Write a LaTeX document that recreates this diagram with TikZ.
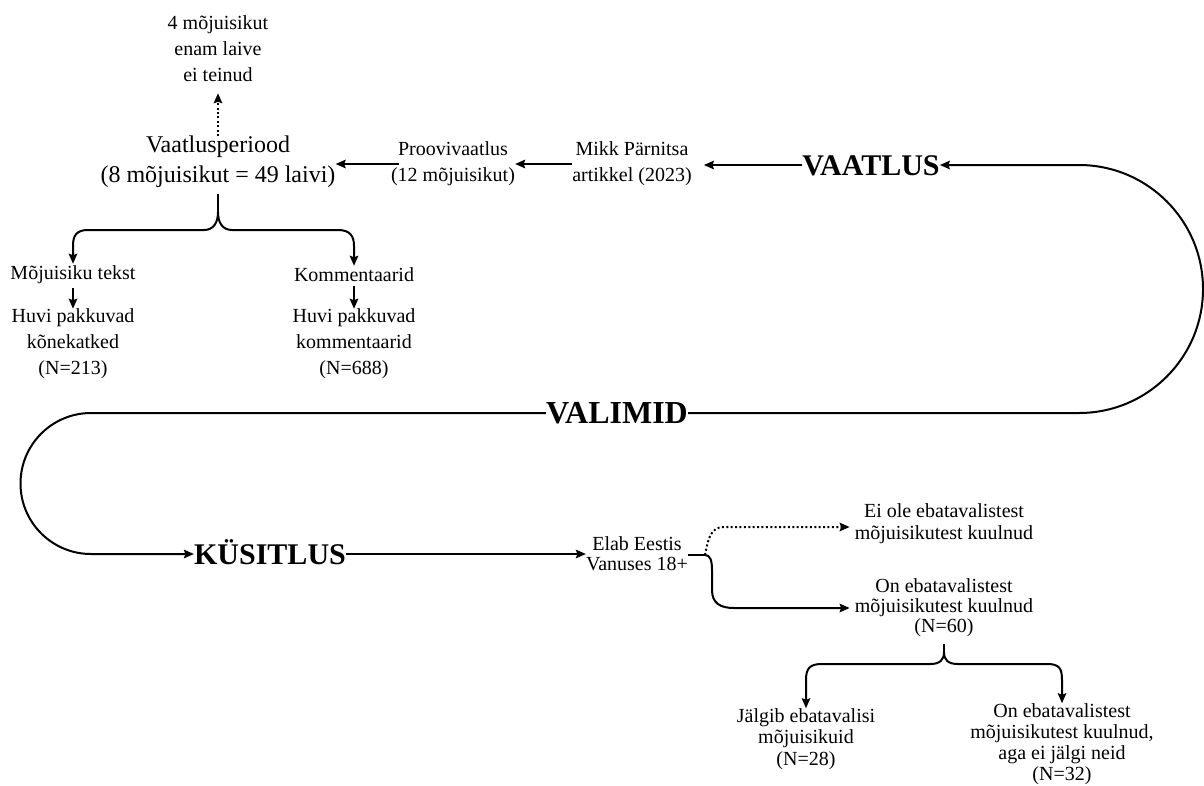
\documentclass[tikz,border=0pt]{standalone}
\usepackage{fontspec}
\setmainfont{Liberation Serif}
\usetikzlibrary{arrows.meta}
\begin{document}
\begin{tikzpicture}[x=1pt,y=-1pt,
  every node/.style={inner sep=0pt, align=center},
  ta/.style={font=\fontsize{20}{26}\selectfont},
  tb/.style={font=\fontsize{24}{30}\selectfont},
  tc/.style={font=\fontsize{20}{21}\selectfont},
  big/.style={font=\fontsize{30}{36}\selectfont\bfseries, text height=20.3pt, text depth=0pt},
  bigg/.style={font=\fontsize{32}{38}\selectfont\bfseries, text height=21.6pt, text depth=0pt},
  tip/.style={-{Stealth[length=10pt,width=8.5pt,inset=1.5pt]}},
  ln/.style={line width=2pt},
  arr/.style={line width=2pt, tip},
  dots/.style={line width=2pt, dash pattern=on 2pt off 2.4pt}]
\useasboundingbox (0,0) rectangle (1204,785);

% nodes
\node[ta] (n4) at (218,49) {4 mõjuisikut\\enam laive\\ei teinud};
\node[tb] (vp) at (218,162) {Vaatlusperiood\\(8 mõjuisikut = 49 laivi)};
\node[ta] (pv) at (453,164) {Proovivaatlus\\(12 mõjuisikut)};
\node[ta] (mp) at (632,164) {Mikk Pärnitsa\\artikkel (2023)};
\node[big] (va) at (871,165) {VAATLUS};
\node[ta] (mt) at (73,275) {Mõjuisiku tekst};
\node[ta] (hk) at (73,344) {Huvi pakkuvad\\kõnekatked\\(N=213)};
\node[ta] (ko) at (354,275) {Kommentaarid};
\node[ta] (hko) at (354,344) {Huvi pakkuvad\\kommentaarid\\(N=688)};
\node[bigg] (vl) at (617,413) {VALIMID};
\node[big] (ku) at (270,554) {KÜSITLUS};
\node[font=\fontsize{20}{20}\selectfont] (el) at (637,554) {Elab Eestis\\Vanuses 18+};
\node[font=\fontsize{20}{22}\selectfont] (eo) at (944,524) {Ei ole ebatavalistest\\mõjuisikutest kuulnud};
\node[font=\fontsize{20}{20}\selectfont] (on) at (944,608) {On ebatavalistest\\mõjuisikutest kuulnud\\(N=60)};
\node[font=\fontsize{20}{21.5}\selectfont] (jg) at (806,739) {Jälgib ebatavalisi\\mõjuisikuid\\(N=28)};
\node[tc] (oe) at (1062,744) {On ebatavalistest\\mõjuisikutest kuulnud,\\aga ei jälgi neid\\(N=32)};

% top row
\draw[dots, tip, shorten >=11pt] (vp.north) -- (n4.south);
\draw[arr, shorten <=-8pt] (pv.west) -- (vp.east |- pv.west);
\draw[arr] (mp.west) -- (pv.east |- mp.west);
\draw[arr, shorten >=12pt] (va.west) -- (mp.east |- va.west);

% top brace
\draw[ln] (vp.south) ++(0,6) -- (218,212);
\draw[arr, shorten >=2pt] (218,212) .. controls (218,222) and (214,230) .. (204,230) -- (88,230)
  .. controls (76,230) and (73,236) .. (73,246) -- (mt.north);
\draw[arr, shorten >=2pt] (218,212) .. controls (218,222) and (222,230) .. (232,230) -- (338,230)
  .. controls (350,230) and (354,236) .. (354,246) -- (ko.north);
\draw[arr, shorten <=4pt] (mt.south) -- (hk.north);
\draw[arr, shorten <=4pt] (ko.south) -- (hko.north);

% loops
\draw[arr] (vl.east) -- (1079,413) arc[start angle=90, end angle=-90, radius=124] -- (va.east);
\draw[arr] (vl.west) -- (91,413) arc[start angle=-90, end angle=-270, radius=70.5] -- (ku.west);

% survey
\draw[arr] (ku.east) -- (el.west);
\coordinate (j) at (705,555);
\coordinate (dt) at (724,527);
\coordinate (st) at (734,608);
\draw[ln] (el.east |- j) -- (j);
\draw[dots, tip, shorten >=5pt] (j) .. controls (708,540) and (710,527) .. (dt) -- (eo.west |- dt);
\draw[arr, shorten >=5pt] (j) .. controls (710,555) and (712,560) .. (712,570) -- (712,590)
  .. controls (712,603) and (720,608) .. (st) -- (on.west |- st);

% bottom brace
\draw[ln] (on.south) ++(0,7) -- (944,652);
\draw[arr] (944,652) .. controls (944,660) and (940,664) .. (930,664) -- (822,664)
  .. controls (810,664) and (806,668) .. (806,680) -- (jg.north);
\draw[arr] (944,652) .. controls (944,660) and (948,664) .. (958,664) -- (1047,664)
  .. controls (1059,664) and (1062,668) .. (1062,680) -- (oe.north);
\end{tikzpicture}
\end{document}
